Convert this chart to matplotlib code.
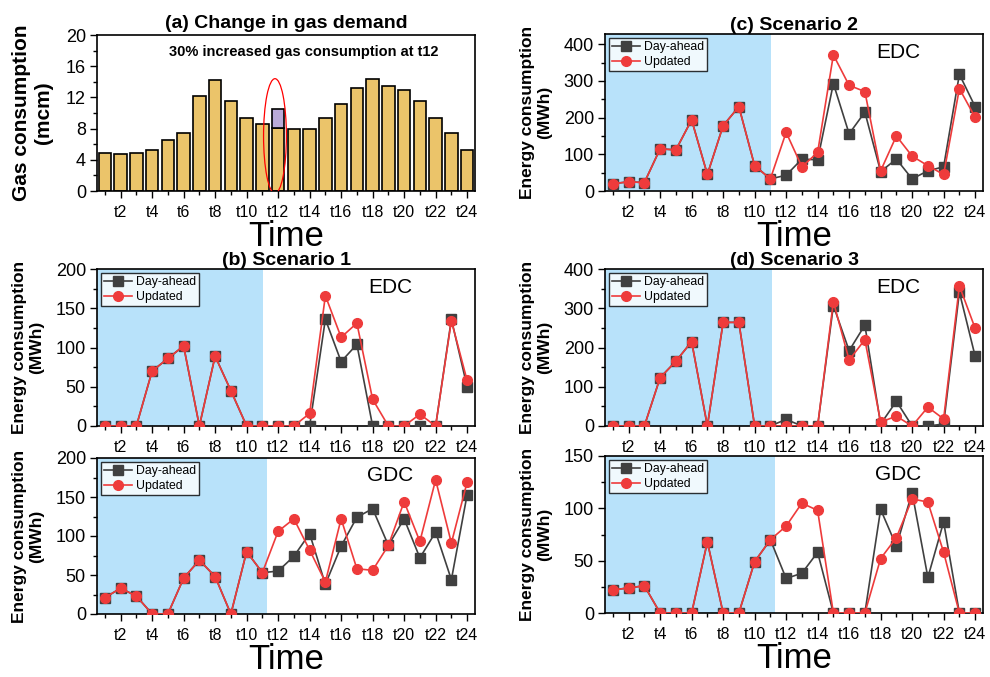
import matplotlib
matplotlib.use("Agg")
import matplotlib.pyplot as plt
from matplotlib.patches import Ellipse
from matplotlib.ticker import MultipleLocator, AutoMinorLocator

plt.rcParams['font.family'] = ['Liberation Sans', 'DejaVu Sans']

hours = list(range(1, 25))
tick_pos = list(range(2, 25, 2))
tick_lab = ['t%d' % h for h in tick_pos]

# (a) gas demand (mcm)
gas_base = [4.9, 4.7, 4.9, 5.3, 6.6, 7.5, 12.2, 14.2, 11.5, 9.4, 8.6, 8.1,
            8.0, 8.0, 9.3, 11.2, 13.2, 14.3, 13.5, 13.0, 11.6, 9.4, 7.5, 5.2]
gas_t12_new = 10.5

# (b) scenario 1
s1_edc_da = [0, 0, 0, 70, 86, 102, 0, 89, 45, 0, 0, 0,
             0, 0, 136, 82, 104, 0, 0, 0, 0, 0, 136, 50]
s1_edc_up = [0, 0, 0, 70, 86, 102, 0, 89, 45, 0, 0, 0,
             0, 16, 166, 113, 131, 34, 0, 0, 15, 0, 134, 58]
s1_gdc_da = [21, 33, 23, 0, 0, 46, 69, 48, 0, 80, 53, 55,
             74, 103, 38, 87, 124, 135, 88, 122, 72, 105, 44, 153]
s1_gdc_up = [21, 33, 23, 0, 0, 46, 69, 48, 0, 80, 53, 106,
             122, 82, 41, 122, 58, 56, 88, 144, 93, 172, 91, 169]

# (c) scenario 2
s2_edc_da = [20, 25, 23, 115, 112, 194, 45, 178, 230, 69, 33, 43,
             87, 85, 293, 156, 215, 53, 87, 33, 55, 66, 318, 230]
s2_edc_up = [20, 25, 23, 115, 112, 194, 45, 178, 230, 69, 33, 160,
             66, 105, 371, 288, 271, 55, 150, 95, 69, 45, 279, 201]

# (d) scenario 3
s3_edc_da = [0, 0, 0, 123, 165, 215, 0, 264, 264, 0, 0, 17,
             0, 0, 307, 192, 257, 5, 63, 0, 0, 5, 341, 178]
s3_edc_up = [0, 0, 0, 123, 165, 215, 0, 264, 264, 0, 0, 0,
             0, 0, 317, 168, 220, 10, 25, 0, 48, 18, 357, 249]
s3_gdc_da = [22, 24, 26, 0, 0, 0, 68, 0, 0, 49, 70, 33,
             38, 58, 0, 0, 0, 99, 64, 115, 34, 87, 0, 0]
s3_gdc_up = [22, 24, 26, 0, 0, 0, 68, 0, 0, 49, 70, 83,
             105, 98, 0, 0, 0, 52, 72, 109, 106, 58, 0, 0]

W, H = 990, 677
fig = plt.figure(figsize=(W / 100, H / 100), dpi=100)


def box(x0, y0, x1, y1):
    return [x0 / W, 1 - y1 / H, (x1 - x0) / W, (y1 - y0) / H]


def style(ax, ymax, ystep, xlabel=True):
    ax.set_xlim(0.5, 24.5)
    ax.set_ylim(0, ymax)
    ax.set_xticks(tick_pos)
    ax.set_xticklabels(tick_lab)
    ax.xaxis.set_minor_locator(MultipleLocator(1))
    ax.yaxis.set_major_locator(MultipleLocator(ystep))
    ax.yaxis.set_minor_locator(AutoMinorLocator(2))
    ax.tick_params(which='major', direction='out', length=5, width=1)
    ax.tick_params(which='minor', direction='out', length=3, width=1)
    ax.tick_params(axis='x', labelsize=11.5, pad=5)
    ax.tick_params(axis='y', labelsize=13, pad=3)
    for s in ax.spines.values():
        s.set_linewidth(1.2)
    if xlabel:
        ax.set_xlabel('Time', fontsize=25, labelpad=0)


blue = '#b8e2fa'
gray = '#404040'
red = '#ee3b3b'


def lines(ax, da, up, tag, shade, ymax, ystep, xlabel, title=None):
    ax.axvspan(0.5, shade, color=blue, lw=0, zorder=0)
    ax.plot(hours, da, '-s', color=gray, lw=1.2, ms=6.5, label='Day-ahead', zorder=3)
    ax.plot(hours, up, '-o', color=red, mec=red, lw=1.2, ms=7, label='Updated', zorder=4)
    style(ax, ymax, ystep, xlabel)
    ax.set_ylabel('Energy consumption\n(MWh)', fontsize=12.5, fontweight='bold', labelpad=8)
    ax.text(19.1, ymax * 0.885, tag, fontsize=15, ha='center', va='center')
    leg = ax.legend(loc='upper left', fontsize=8.8, frameon=True, fancybox=False,
                    edgecolor='black', handlelength=2.3, borderpad=0.25,
                    labelspacing=0.2, handletextpad=0.3, borderaxespad=0.35)
    leg.get_frame().set_linewidth(1.0)
    if title:
        ax.set_title(title, fontsize=14, fontweight='bold', pad=3)


# (a)
ax = fig.add_axes(box(97, 35, 475, 191))
ax.bar(hours, gas_base, width=0.8, color='#ebc46a', edgecolor='black', lw=1.2, zorder=2)
ax.bar([12], [gas_t12_new - gas_base[11]], bottom=[gas_base[11]], width=0.8,
       color='#b9aad8', edgecolor='black', lw=1.2, zorder=2)
ax.add_patch(Ellipse((11.8, 7.05), 1.45, 14.7, fill=False, edgecolor='red', lw=0.9, zorder=3))
ax.text(13.6, 17.8, '30% increased gas consumption at t12', fontsize=10.5,
        fontweight='bold', ha='center', va='center')
style(ax, 20, 4)
ax.set_ylabel('Gas consumption\n(mcm)', fontsize=15, fontweight='bold', labelpad=9)
ax.set_title('(a) Change in gas demand', fontsize=14, fontweight='bold', pad=5)

# (c)
ax = fig.add_axes(box(605, 34, 983, 191))
lines(ax, s2_edc_da, s2_edc_up, 'EDC', 11.05, 428, 100, True, '(c) Scenario 2')

# (b)
ax = fig.add_axes(box(97, 269, 475, 426))
lines(ax, s1_edc_da, s1_edc_up, 'EDC', 11.05, 200, 50, False, '(b) Scenario 1')
ax.title.set_position((0.5, 0.95))
ax = fig.add_axes(box(97, 458, 475, 614))
lines(ax, s1_gdc_da, s1_gdc_up, 'GDC', 11.3, 200, 50, True)

# (d)
ax = fig.add_axes(box(605, 269, 983, 426))
lines(ax, s3_edc_da, s3_edc_up, 'EDC', 11.1, 400, 100, False, '(d) Scenario 3')
ax.title.set_position((0.5, 0.95))
ax = fig.add_axes(box(605, 456, 983, 613))
lines(ax, s3_gdc_da, s3_gdc_up, 'GDC', 11.3, 150, 50, True)

fig.savefig('out.png', dpi=100)
